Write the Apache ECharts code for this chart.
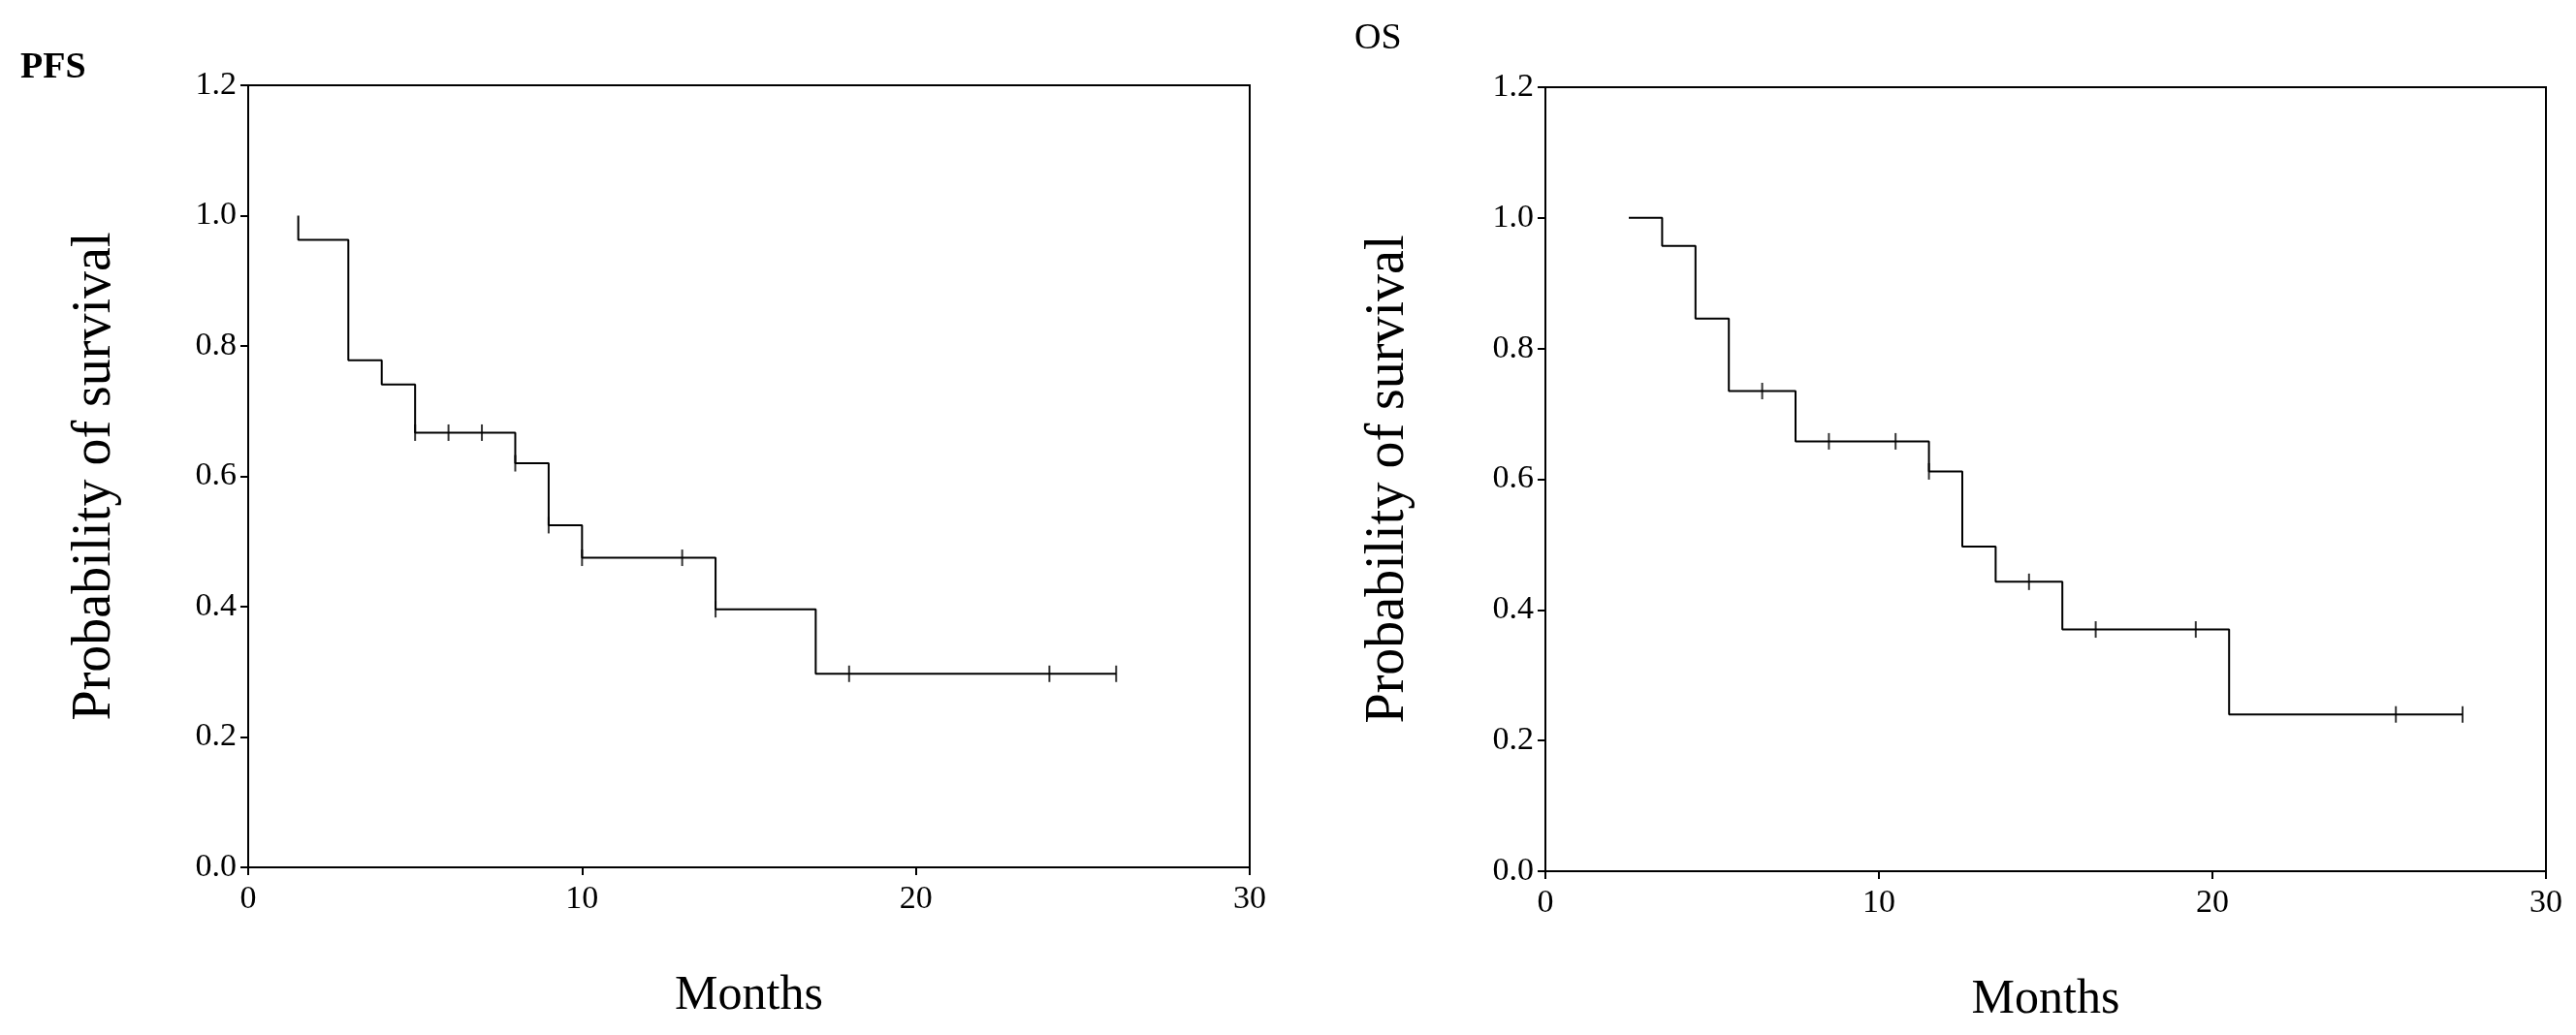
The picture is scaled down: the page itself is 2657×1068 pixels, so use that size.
<!DOCTYPE html>
<html>
<head>
<meta charset="utf-8">
<script src="https://cdn.jsdelivr.net/npm/echarts@6/dist/echarts.min.js"></script>
<style>
html, body { margin: 0; padding: 0; background: #fff; }
#chart { width: 2657px; height: 1068px; }
</style>
</head>
<body>
<div id="chart"></div>
<script>
// PFS: step curve [months, survival], censor marks
var pfsCurve = [[1.5, 1.0], [1.5, 0.963], [3, 0.778], [4, 0.741], [5, 0.667], [8, 0.62], [9, 0.525], [10, 0.475], [14, 0.396], [17, 0.297], [26, 0.297]];
var pfsCensor = [[5, 0.667], [6, 0.667], [7, 0.667], [8, 0.62], [9, 0.525], [10, 0.475], [13, 0.475], [14, 0.396], [18, 0.297], [24, 0.297], [26, 0.297]];
// OS
var osCurve = [[2.5, 1.0], [3.5, 0.957], [4.5, 0.846], [5.5, 0.735], [7.5, 0.658], [11.5, 0.612], [12.5, 0.497], [13.5, 0.443], [15.5, 0.37], [20.5, 0.24], [27.5, 0.24]];
var osCensor = [[6.5, 0.735], [8.5, 0.658], [10.5, 0.658], [11.5, 0.612], [14.5, 0.443], [16.5, 0.37], [19.5, 0.37], [25.5, 0.24], [27.5, 0.24]];

var xTicks = { min: 0, max: 30, interval: 10 };
var yTicks = { min: 0, max: 1.2, interval: 0.2 };

var font = 'Liberation Serif';
var myChart = echarts.init(document.getElementById('chart'));

function xAxis(idx) {
	return {
		gridIndex: idx, type: 'value', min: xTicks.min, max: xTicks.max, interval: xTicks.interval,
		name: 'Months', nameLocation: 'middle', nameGap: 108,
		nameTextStyle: { fontFamily: font, fontSize: 50, color: '#000' },
		axisLine: { lineStyle: { color: '#000', width: 2 } },
		axisTick: { length: 8, lineStyle: { color: '#000', width: 2 } },
		axisLabel: { fontFamily: font, fontSize: 34, color: '#000', margin: 16 },
		splitLine: { show: false }
	};
}
function yAxis(idx, gap) {
	return {
		gridIndex: idx, type: 'value', min: yTicks.min, max: yTicks.max, interval: yTicks.interval,
		name: 'Probability of survival', nameLocation: 'middle', nameGap: gap,
		nameTextStyle: { fontFamily: font, fontSize: 56, color: '#000' },
		axisLine: { show: true, lineStyle: { color: '#000', width: 2 } },
		axisTick: { show: true, length: 8, lineStyle: { color: '#000', width: 2 } },
		axisLabel: { fontFamily: font, fontSize: 34, color: '#000', margin: 12,
			formatter: function(v) { return v.toFixed(1); } },
		splitLine: { show: false }
	};
}
function curve(idx, data) {
	return {
		type: 'line', xAxisIndex: idx, yAxisIndex: idx, step: 'end', data: data,
		showSymbol: false, lineStyle: { color: '#000', width: 2 }, animation: false
	};
}
function censor(idx, data) {
	return {
		type: 'scatter', xAxisIndex: idx, yAxisIndex: idx, data: data,
		symbol: 'rect', symbolSize: [2, 17], itemStyle: { color: '#000' }, animation: false
	};
}

var option = {
	backgroundColor: '#fff',
	title: [
		{ text: 'PFS', left: 16, top: 46, textStyle: { fontFamily: font, fontSize: 38, fontWeight: 'bold', color: '#000' } },
		{ text: 'OS', left: 1392, top: 16, textStyle: { fontFamily: font, fontSize: 38, fontWeight: 'normal', color: '#000' } }
	],
	grid: [
		{ left: 256, top: 88, width: 1033, height: 807, show: true, borderColor: '#000', borderWidth: 2 },
		{ left: 1594, top: 90, width: 1032, height: 809, show: true, borderColor: '#000', borderWidth: 2 }
	],
	xAxis: [xAxis(0), xAxis(1)],
	yAxis: [yAxis(0, 130), yAxis(1, 134)],
	series: [curve(0, pfsCurve), censor(0, pfsCensor), curve(1, osCurve), censor(1, osCensor)]
};
myChart.setOption(option);
</script>
</body>
</html>
